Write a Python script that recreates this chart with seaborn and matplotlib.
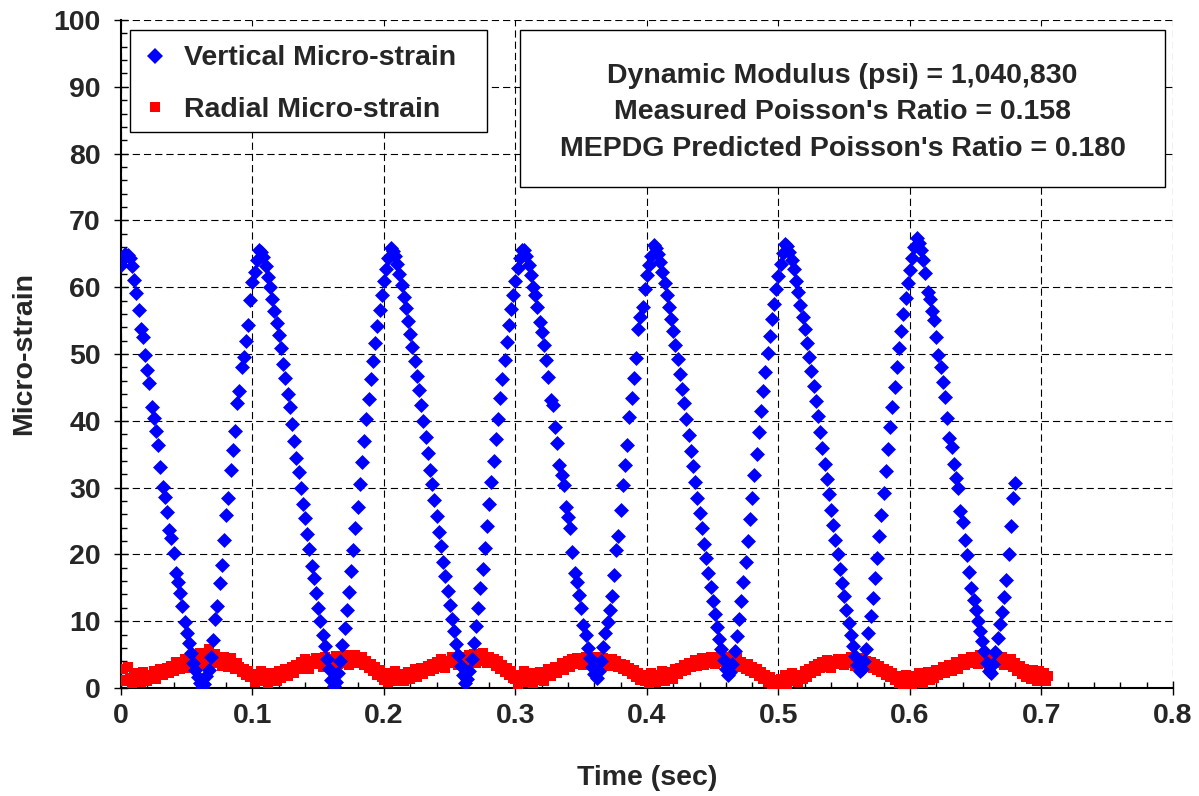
import numpy as np
import pandas as pd
import matplotlib
matplotlib.use("Agg")
import matplotlib.pyplot as plt
from matplotlib.lines import Line2D
from matplotlib.patches import Rectangle
from matplotlib.ticker import MultipleLocator
import seaborn as sns

# sampling interval of the test data (sec)
dt = 1 / 600

# vertical micro-strain
vertical = [
    63.3, 64.2, 65.0, 64.8,
    # cycle 1
    64.3, 63.2, 61.1, 59.2, 56.6, 53.8, 52.6, 49.9, 47.6, 45.6, 42.1, 40.4, 38.4, 36.4, 33.1, 30.1, 28.6,
    26.4, 23.7, 22.4, 20.2, 17.2, 15.9, 14.2, 12.2, 9.9, 8.2, 6.7, 5.2, 3.8, 2.7, 1.6, 0.8, 0.2,
    0.6, 1.8, 2.7, 4.7, 7.2, 10.4, 12.2, 15.7, 18.4, 22.2, 25.9, 28.4, 32.6, 35.6, 38.4, 42.6, 44.4,
    48.1, 49.6, 51.9, 54.3, 58.1, 60.8, 62.3, 64.1, 65.6,
    # cycle 2
    65.2, 64.5, 63.1, 61.5, 60.0, 58.2, 56.5, 54.7, 52.8, 50.9, 48.5, 46.4, 44.0, 42.0, 39.5, 36.9, 34.5,
    32.4, 30.0, 27.6, 25.4, 23.1, 20.8, 18.3, 16.4, 14.2, 12.0, 10.1, 8.0, 6.3, 4.4, 2.8, 1.2, 0.3,
    0.9, 2.2, 4.1, 6.5, 9.0, 11.6, 14.4, 17.5, 20.6, 23.9, 27.1, 30.5, 33.8, 37.0, 40.2, 43.3, 46.2,
    49.0, 51.7, 54.2, 56.6, 58.8, 60.9, 62.7, 64.3, 65.8,
    # cycle 3
    65.4, 64.6, 63.4, 62.0, 60.3, 58.5, 56.9, 54.9, 53.0, 51.1, 49.0, 46.7, 44.6, 42.3, 40.0, 37.6, 35.2,
    32.7, 30.5, 28.1, 25.8, 23.4, 21.2, 18.8, 16.7, 14.5, 12.4, 10.4, 8.5, 6.6, 4.9, 3.3, 1.9, 0.8,
    1.4, 2.6, 4.4, 6.8, 9.3, 12.0, 14.9, 17.8, 21.0, 24.2, 27.5, 30.8, 34.0, 37.2, 40.3, 43.4, 46.3,
    49.1, 51.8, 54.3, 56.7, 58.9, 61.0, 62.8, 64.4, 65.6,
    # cycle 4
    65.6, 64.6, 63.3, 61.8, 60.1, 58.8, 57.1, 54.8, 53.3, 51.3, 49.1, 46.6, 43.1, 42.4, 39.1, 36.6, 33.4,
    31.9, 30.4, 27.1, 25.6, 23.9, 20.4, 17.2, 15.9, 13.9, 11.9, 9.4, 7.9, 6.0, 4.5, 3.2, 2.1, 1.5,
    2.5, 4.0, 6.2, 8.2, 9.9, 11.7, 13.7, 16.9, 20.7, 22.7, 26.6, 30.4, 33.4, 36.4, 40.6, 43.4, 46.4,
    49.4, 53.8, 55.6, 57.1, 59.8, 61.8, 63.3, 64.6, 66.3,
    # cycle 5
    65.9, 65.0, 63.8, 62.3, 60.6, 58.9, 57.0, 55.2, 53.4, 51.3, 49.3, 47.0, 44.8, 42.6, 40.2, 37.9, 35.5,
    33.2, 30.8, 28.5, 26.2, 23.9, 21.6, 19.4, 17.2, 15.1, 13.0, 11.1, 9.2, 7.4, 5.8, 4.2, 2.9, 2.0,
    2.4, 3.6, 5.5, 7.8, 10.3, 13.0, 15.8, 18.9, 22.0, 25.3, 28.5, 31.9, 35.1, 38.3, 41.4, 44.4, 47.3,
    50.1, 52.7, 55.2, 57.5, 59.7, 61.7, 63.5, 65.1, 66.4,
    # cycle 6
    66.1, 65.3, 64.1, 62.7, 61.0, 59.3, 57.4, 55.6, 53.7, 51.7, 49.6, 47.5, 45.2, 43.0, 40.7, 38.3, 36.0,
    33.6, 31.3, 29.0, 26.7, 24.4, 22.2, 20.0, 17.8, 15.7, 13.7, 11.7, 9.8, 8.0, 6.3, 4.8, 3.4, 2.5,
    2.9, 4.1, 5.9, 8.2, 10.8, 13.5, 16.4, 19.5, 22.7, 25.9, 29.2, 32.5, 35.8, 39.0, 42.1, 45.1, 48.1,
    50.9, 53.5, 56.0, 58.4, 60.6, 62.6, 64.4, 66.0, 67.4,
    # cycle 7
    66.6, 65.6, 64.1, 62.1, 59.3, 58.3, 56.4, 55.1, 52.6, 49.8, 48.1, 45.8, 43.6, 40.4, 37.4, 36.1, 33.6,
    31.4, 29.9, 26.5, 24.9, 22.1, 19.9, 17.4, 14.9, 13.1, 11.6, 10.1, 8.6, 7.1, 5.6, 3.7, 2.6, 2.2,
    3.6, 5.4, 7.5, 9.6, 11.4, 13.6, 16.2, 20.1, 24.2, 28.5, 30.7,
]

# radial micro-strain
radial = [
    1.2, 2.8, 1.0, 3.1, 1.5, 0.8, 2.2, 1.0, 1.9, 0.9, 2.4, 1.3, 1.1, 2.0, 1.6, 2.5, 1.3, 2.2, 2.8, 1.9,
    2.5, 3.0, 2.2, 3.3, 2.6, 3.9, 3.1, 2.8, 3.6, 4.4, 3.5, 3.0, 4.1, 3.7, 4.6, 3.9, 5.2, 4.3, 3.5, 4.8,
    5.9, 4.4, 3.8, 5.1, 4.6, 4.0, 3.3, 4.7, 4.1, 3.2, 4.5, 3.6, 2.9, 3.8, 3.1, 2.4, 2.9, 2.0, 2.6, 1.7,
    1.6, 0.9, 2.1, 1.2, 2.5, 1.0, 1.7, 0.8, 2.3, 1.4, 1.9, 1.1, 2.6, 1.5, 2.0, 2.9, 1.8, 2.4, 3.2, 2.2,
    3.4, 2.8, 3.9, 3.0, 4.4, 3.5, 2.9, 4.1, 3.6, 4.5, 3.8, 4.2, 3.2, 4.6, 3.9, 4.4, 3.3, 4.0, 4.8, 3.6,
    4.3, 3.7, 4.9, 4.1, 3.5, 4.5, 4.0, 5.0, 3.8, 4.3, 4.6, 3.4, 4.0, 3.0, 3.6, 2.5, 3.1, 2.0, 2.7, 1.6,
    1.2, 2.2, 0.9, 1.8, 1.3, 2.5, 1.0, 1.7, 2.1, 1.1, 1.9, 2.4, 1.4, 2.0, 2.8, 1.6, 2.3, 3.0, 2.1, 2.7,
    3.3, 2.5, 3.6, 2.9, 3.9, 3.2, 4.3, 3.5, 3.0, 4.1, 3.7, 4.6, 3.9, 4.2, 3.4, 4.7, 4.0, 4.4, 3.6, 4.9,
    4.2, 5.1, 3.8, 4.5, 4.0, 5.2, 4.3, 3.7, 4.6, 3.9, 4.4, 3.3, 4.1, 2.8, 3.5, 2.4, 3.0, 1.9, 2.6, 1.5,
    1.3, 0.6, 2.0, 1.1, 2.6, 0.9, 1.5, 2.2, 0.8, 1.7, 1.2, 2.4, 1.6, 1.0, 2.1, 2.9, 1.8, 2.5, 3.2, 2.3,
    3.0, 3.7, 2.7, 3.4, 4.0, 3.1, 4.3, 3.6, 4.5, 3.9, 4.2, 3.5, 4.6, 4.0, 3.7, 4.4, 3.8, 4.7, 4.1, 3.4,
    4.5, 3.9, 4.2, 3.3, 4.4, 3.7, 4.0, 3.1, 3.6, 2.8, 3.4, 2.5, 3.0, 2.1, 2.7, 1.6, 2.3, 1.2, 1.9, 1.0,
    1.5, 0.7, 2.3, 1.2, 0.9, 1.9, 1.4, 2.6, 1.1, 2.0, 1.6, 2.4, 1.3, 2.8, 2.1, 3.0, 2.5, 3.4, 2.7, 3.8,
    3.1, 3.6, 4.2, 3.3, 3.9, 4.5, 3.5, 4.1, 3.7, 4.6, 4.0, 3.6, 4.4, 3.9, 4.8, 4.2, 3.5, 4.6, 4.0, 4.3,
    3.7, 4.5, 3.2, 3.9, 3.4, 2.8, 3.6, 2.5, 3.1, 2.2, 2.8, 1.8, 2.4, 1.3, 1.9, 0.9, 1.6, 0.6, 1.2, 0.8,
    0.5, 1.4, 0.8, 1.9, 0.6, 1.2, 2.2, 1.0, 1.6, 0.9, 2.0, 1.3, 2.5, 1.7, 2.9, 2.2, 3.3, 2.6, 3.6, 3.0,
    3.9, 3.2, 4.2, 3.5, 3.0, 4.1, 3.6, 4.4, 3.8, 4.0, 3.4, 4.3, 3.7, 4.6, 3.9, 3.3, 4.2, 3.6, 4.5, 3.8,
    4.1, 3.4, 3.9, 3.0, 3.6, 2.7, 3.3, 2.4, 2.9, 2.0, 2.6, 1.7, 2.2, 1.2, 1.8, 0.8, 1.5, 0.6, 1.9, 1.0,
    1.3, 0.5, 1.8, 0.9, 2.3, 1.1, 0.7, 1.6, 2.4, 1.2, 2.0, 1.5, 2.7, 1.9, 2.4, 3.1, 2.2, 2.8, 3.5, 2.6,
    3.3, 3.9, 2.9, 3.6, 4.3, 3.4, 4.0, 3.7, 4.6, 3.9, 4.4, 3.6, 4.9, 4.1, 3.8, 4.5, 3.5, 4.2, 4.8, 3.7,
    4.3, 3.9, 4.6, 3.4, 4.1, 3.6, 4.4, 3.2, 3.8, 2.6, 3.3, 2.1, 2.9, 1.6, 2.4, 1.3, 2.7, 1.8, 1.1, 2.5,
    1.6, 2.2, 1.0, 1.8,
]

info_lines = [
    "Dynamic Modulus (psi) = 1,040,830",
    "Measured Poisson's Ratio = 0.158",
    "MEPDG Predicted Poisson's Ratio = 0.180",
]

df_v = pd.DataFrame({"time": np.arange(len(vertical)) * dt, "strain": vertical})
df_r = pd.DataFrame({"time": np.arange(len(radial)) * dt, "strain": radial})

sns.set_theme(style="white")
plt.rcParams["font.family"] = ["Liberation Sans", "DejaVu Sans"]
plt.rcParams["font.weight"] = "bold"

fs = 20.5
fig = plt.figure(figsize=(11.99, 7.96), dpi=100)
ax = fig.add_axes([0.1009, 0.1357, 0.8774, 0.8392])

sns.scatterplot(data=df_r, x="time", y="strain", marker="s", s=50, color="#FF0000",
                linewidth=0, ax=ax, zorder=3, legend=False)
sns.scatterplot(data=df_v, x="time", y="strain", marker="D", s=58, color="#0000FF",
                linewidth=0, ax=ax, zorder=4, legend=False)

ax.set_xlim(0, 0.8)
ax.set_ylim(0, 100)
ax.xaxis.set_major_locator(MultipleLocator(0.1))
ax.xaxis.set_minor_locator(MultipleLocator(0.02))
ax.yaxis.set_major_locator(MultipleLocator(10))
ax.yaxis.set_minor_locator(MultipleLocator(2))
ax.set_xticklabels([f"{v:g}" for v in ax.get_xticks()])

ax.grid(True, which="major", color="black", linestyle=(0, (6.5, 3.6)), linewidth=0.8)
ax.set_axisbelow(True)
for side in ["top", "right"]:
    ax.spines[side].set_visible(False)
for side in ["left", "bottom"]:
    ax.spines[side].set_color("black")
    ax.spines[side].set_linewidth(1.5)

ax.tick_params(which="major", direction="inout", length=10, width=1, color="black",
               labelsize=fs)
ax.tick_params(axis="x", which="major", pad=6)
ax.tick_params(axis="y", which="major", pad=9.5)
ax.tick_params(which="minor", direction="in", length=4.5, width=1, color="black")
ax.tick_params(axis="x", which="both", bottom=True)
ax.tick_params(axis="y", which="both", left=True)
for lab in ax.get_xticklabels() + ax.get_yticklabels():
    lab.set_fontweight("bold")

ax.set_xlabel("Time (sec)", fontsize=fs, fontweight="bold", labelpad=26)
ax.set_ylabel("Micro-strain", fontsize=fs, fontweight="bold", labelpad=12)

# legend box drawn as its own frame
leg_box = Rectangle((0.00856, 0.8323), 0.3394, 0.1527, transform=ax.transAxes,
                    facecolor="white", edgecolor="black", linewidth=1.0, zorder=6)
ax.add_patch(leg_box)
handles = [
    Line2D([], [], marker="D", linestyle="none", markersize=8.2, color="#0000FF", markeredgewidth=0),
    Line2D([], [], marker="s", linestyle="none", markersize=7.0, color="#FF0000", markeredgewidth=0),
]
leg = ax.legend(handles, ["Vertical Micro-strain", "Radial Micro-strain"],
                loc="upper left", bbox_to_anchor=(0.019, 0.9618), borderaxespad=0,
                prop={"size": fs, "weight": "bold"}, frameon=False,
                labelspacing=0.88, handlelength=1.0, handletextpad=0.5, borderpad=0)
leg.set_zorder(7)

box = Rectangle((0.3793, 0.750), 0.613, 0.235, transform=ax.transAxes, facecolor="white",
                edgecolor="black", linewidth=1.0, zorder=6)
ax.add_patch(box)
for txt, yy in zip(info_lines, [0.9165, 0.8626, 0.8072]):
    ax.text(0.686, yy, txt, transform=ax.transAxes, ha="center", va="center",
            fontsize=fs, fontweight="bold", zorder=7)

fig.savefig("out.png", dpi=100)
